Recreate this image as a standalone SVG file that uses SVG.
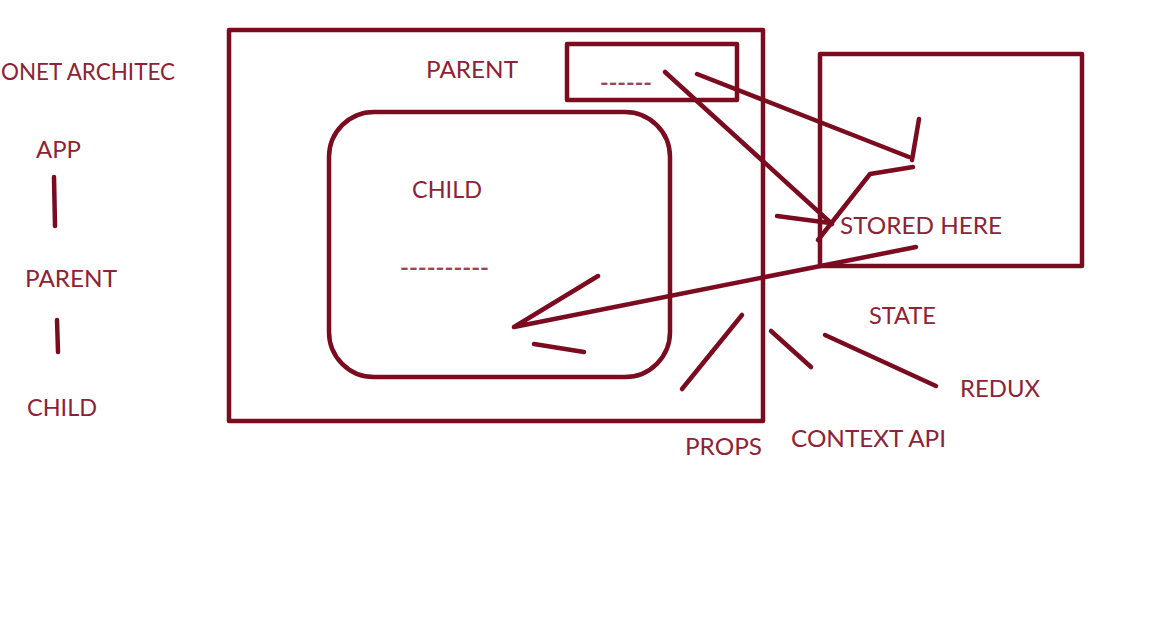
<svg xmlns="http://www.w3.org/2000/svg" width="1152" height="639" viewBox="0 0 1152 639">
<style>
.s{fill:none;stroke:#7b0c20;stroke-width:4.5;stroke-linecap:round;stroke-linejoin:round}
.t{font-family:Lato,"Open Sans","Liberation Sans",sans-serif;font-size:24px;fill:#8e2236}
.d{font-family:Lato,"Open Sans","Liberation Sans",sans-serif;font-size:22px;font-weight:bold;fill:#9a4656}
</style>
<rect width="1152" height="639" fill="#fff"/>
<g id="title"><text class="t" x="1" y="80" textLength="174" lengthAdjust="spacingAndGlyphs">ONET ARCHITEC</text></g>
<g id="app"><text class="t" x="36" y="158" textLength="45" lengthAdjust="spacingAndGlyphs">APP</text></g>
<g id="parent-left"><text class="t" x="25" y="287" textLength="92" lengthAdjust="spacingAndGlyphs">PARENT</text></g>
<g id="child-left"><text class="t" x="27" y="416" textLength="70" lengthAdjust="spacingAndGlyphs">CHILD</text></g>
<g id="parent-box">
<rect class="s" x="229" y="30" width="534" height="391"/>
<text class="t" x="426" y="78" textLength="92" lengthAdjust="spacingAndGlyphs">PARENT</text>
</g>
<g id="parent-state">
<rect class="s" x="567" y="44" width="170" height="56"/>
<text class="d" x="600" y="91" textLength="52" lengthAdjust="spacingAndGlyphs">------</text>
</g>
<g id="child-box">
<rect class="s" x="329" y="112" width="341" height="265" rx="45"/>
<text class="t" x="412" y="198" textLength="70" lengthAdjust="spacingAndGlyphs">CHILD</text>
<text class="d" x="400" y="276" textLength="89" lengthAdjust="spacingAndGlyphs">----------</text>
</g>
<g id="store-box">
<rect class="s" x="820" y="54" width="262" height="212"/>
<text class="t" x="840" y="234" textLength="162" lengthAdjust="spacingAndGlyphs">STORED HERE</text>
</g>
<g id="labels">
<text class="t" x="869" y="324" textLength="67" lengthAdjust="spacingAndGlyphs">STATE</text>
<text class="t" x="960" y="397" textLength="80" lengthAdjust="spacingAndGlyphs">REDUX</text>
<text class="t" x="791" y="447" textLength="155" lengthAdjust="spacingAndGlyphs">CONTEXT API</text>
<text class="t" x="685" y="455" textLength="77" lengthAdjust="spacingAndGlyphs">PROPS</text>
</g>
<g id="connectors">
<path class="s" d="M54 177 L55 226"/>
<path class="s" d="M57 320 L58 352"/>
<path class="s" d="M665 72 L832 224"/>
<path class="s" d="M777 216 L830 223"/>
<path class="s" d="M913 167 L870 174 L818 240"/>
<path class="s" d="M697 74 L909 157"/>
<path class="s" d="M919 119 L912 160"/>
<path class="s" d="M916 247 L514 327 L598 276"/>
<path class="s" d="M534 344 L584 352"/>
<path class="s" d="M742 315 L682 389"/>
<path class="s" d="M771 331 L811 367"/>
<path class="s" d="M825 335 L936 386"/>
</g>
</svg>
